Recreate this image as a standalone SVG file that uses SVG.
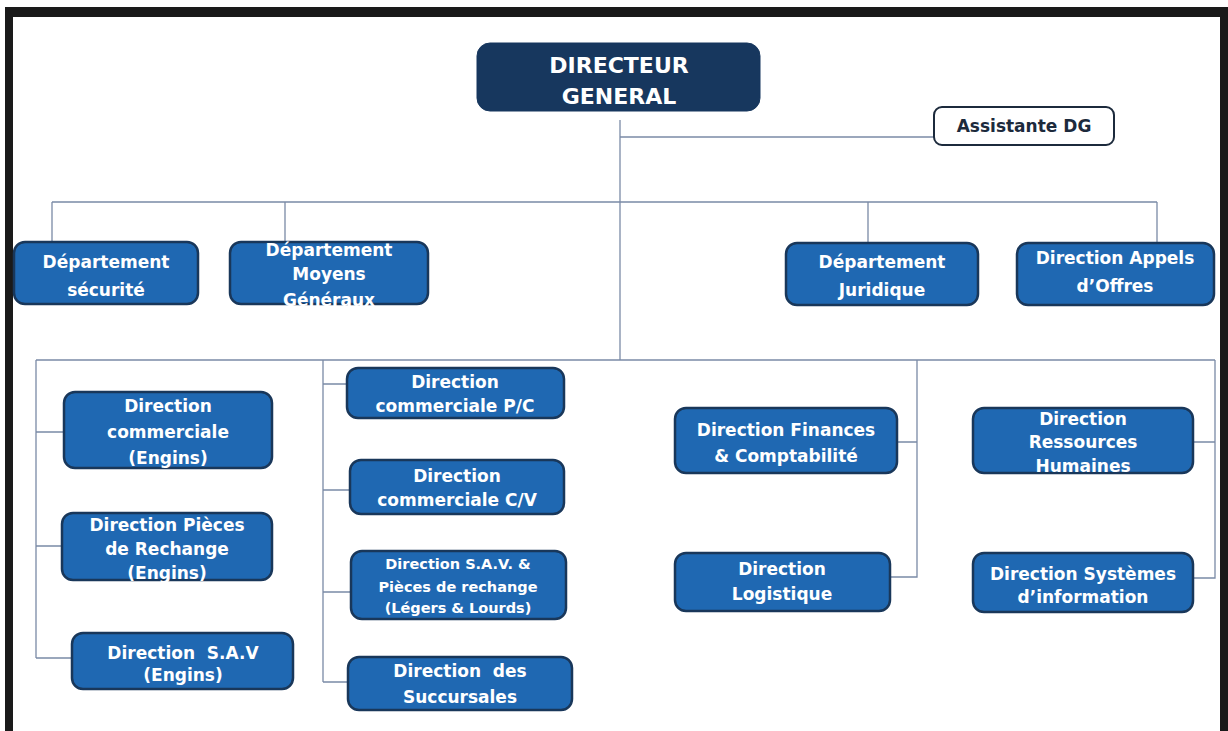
<svg xmlns="http://www.w3.org/2000/svg" width="1228" height="731" viewBox="0 0 1228 731">
<style>
.frame{fill:#1a1a1a}
.box{fill:#1f68b2;stroke:#19375a;stroke-width:2.5}
.dg{fill:#17375e;stroke:#17375e;stroke-width:1}
.asst{fill:#ffffff;stroke:#1c2a3c;stroke-width:2}
.t{font-family:"DejaVu Sans","Liberation Sans",sans-serif;font-weight:bold;font-size:17px;fill:#ffffff;text-anchor:middle}
.ts{font-size:14.5px}
.tdg{font-size:22px}
.ta{fill:#1c2a3c;font-size:17px}
.ln{stroke:#7a8aa6;stroke-width:1.3;fill:none}
</style>
<rect width="1228" height="731" fill="#ffffff"/>
<g id="frame">
<rect class="frame" x="5" y="7" width="1223" height="10"/>
<rect class="frame" x="5" y="7" width="8" height="724"/>
<rect class="frame" x="1220" y="7" width="8" height="724"/>
</g>
<g id="connectors">
<path class="ln" d="M620 120 V360"/>
<path class="ln" d="M620 137 H934"/>
<path class="ln" d="M52 202 H1157 M52 202 V243 M285 202 V243 M868 202 V243 M1157 202 V243"/>
<path class="ln" d="M36 360 H1215"/>
<path class="ln" d="M36 360 V658 M36 432 H64 M36 546 H62 M36 658 H72"/>
<path class="ln" d="M323 360 V682 M323 384 H347 M323 490 H350 M323 592 H351 M323 682 H348"/>
<path class="ln" d="M917 360 V577 H890 M897 442 H917"/>
<path class="ln" d="M1215 360 V578 H1193 M1193 442 H1215"/>
</g>
<g id="n-dg">
<rect class="dg" x="477" y="43" width="283" height="68" rx="13"/>
<text class="t tdg" x="619" y="73">DIRECTEUR</text>
<text class="t tdg" x="619" y="104">GENERAL</text>
</g>
<g id="n-assistante">
<rect class="asst" x="934" y="107" width="180" height="38" rx="8"/>
<text class="t ta" x="1024" y="132">Assistante DG</text>
</g>
<g id="n-securite">
<rect class="box" x="14" y="242" width="184" height="62" rx="11"/>
<text class="t" x="106" y="268">Département</text>
<text class="t" x="106" y="296">sécurité</text>
</g>
<g id="n-moyens">
<rect class="box" x="230" y="242" width="198" height="62" rx="11"/>
<text class="t" x="329" y="256">Département</text>
<text class="t" x="329" y="280">Moyens</text>
<text class="t" x="329" y="306">Généraux</text>
</g>
<g id="n-juridique">
<rect class="box" x="786" y="243" width="192" height="62" rx="11"/>
<text class="t" x="882" y="268">Département</text>
<text class="t" x="882" y="296">Juridique</text>
</g>
<g id="n-appels">
<rect class="box" x="1017" y="243" width="197" height="62" rx="11"/>
<text class="t" x="1115" y="264">Direction Appels</text>
<text class="t" x="1115" y="292">d’Offres</text>
</g>
<g id="n-com-engins">
<rect class="box" x="64" y="392" width="208" height="76" rx="11"/>
<text class="t" x="168" y="412">Direction</text>
<text class="t" x="168" y="438">commerciale</text>
<text class="t" x="168" y="464">(Engins)</text>
</g>
<g id="n-pieces-engins">
<rect class="box" x="62" y="513" width="210" height="67" rx="11"/>
<text class="t" x="167" y="531">Direction Pièces</text>
<text class="t" x="167" y="555">de Rechange</text>
<text class="t" x="167" y="579">(Engins)</text>
</g>
<g id="n-sav-engins">
<rect class="box" x="72" y="633" width="221" height="56" rx="11"/>
<text class="t" x="183" y="659" xml:space="preserve">Direction  S.A.V</text>
<text class="t" x="183" y="681">(Engins)</text>
</g>
<g id="n-com-pc">
<rect class="box" x="347" y="368" width="217" height="50" rx="11"/>
<text class="t" x="455" y="388">Direction</text>
<text class="t" x="455" y="412">commerciale P/C</text>
</g>
<g id="n-com-cv">
<rect class="box" x="350" y="460" width="214" height="54" rx="11"/>
<text class="t" x="457" y="482">Direction</text>
<text class="t" x="457" y="506">commerciale C/V</text>
</g>
<g id="n-sav-ll">
<rect class="box" x="351" y="551" width="215" height="68" rx="11"/>
<text class="t ts" x="458" y="569">Direction S.A.V. &amp;</text>
<text class="t ts" x="458" y="592">Pièces de rechange</text>
<text class="t ts" x="458" y="613">(Légers &amp; Lourds)</text>
</g>
<g id="n-succursales">
<rect class="box" x="348" y="657" width="224" height="53" rx="11"/>
<text class="t" x="460" y="677" xml:space="preserve">Direction  des</text>
<text class="t" x="460" y="703">Succursales</text>
</g>
<g id="n-finances">
<rect class="box" x="675" y="408" width="222" height="65" rx="11"/>
<text class="t" x="786" y="436">Direction Finances</text>
<text class="t" x="786" y="462">&amp; Comptabilité</text>
</g>
<g id="n-logistique">
<rect class="box" x="675" y="553" width="215" height="58" rx="11"/>
<text class="t" x="782" y="575">Direction</text>
<text class="t" x="782" y="600">Logistique</text>
</g>
<g id="n-rh">
<rect class="box" x="973" y="408" width="220" height="65" rx="11"/>
<text class="t" x="1083" y="425">Direction</text>
<text class="t" x="1083" y="448">Ressources</text>
<text class="t" x="1083" y="472">Humaines</text>
</g>
<g id="n-si">
<rect class="box" x="973" y="553" width="220" height="59" rx="11"/>
<text class="t" x="1083" y="580">Direction Systèmes</text>
<text class="t" x="1083" y="603">d’information</text>
</g>
</svg>
